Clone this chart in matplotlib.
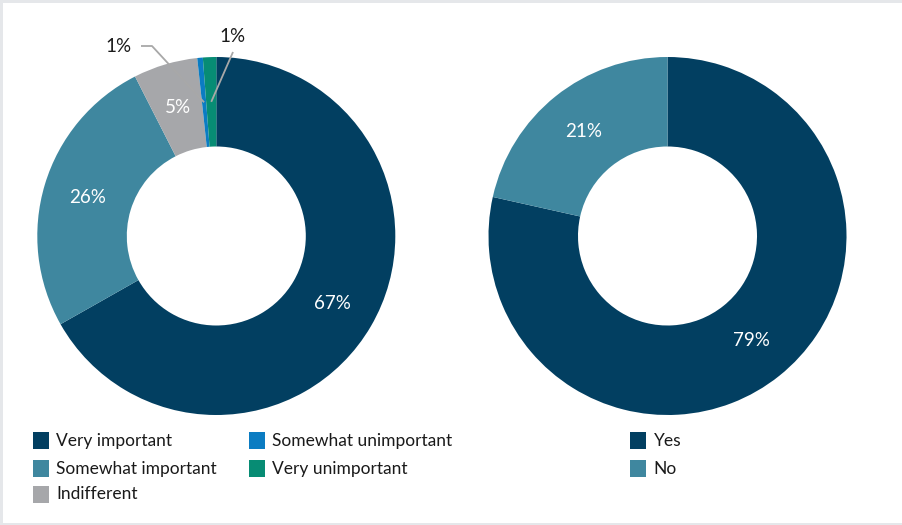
import numpy as np
import matplotlib
matplotlib.use("Agg")
import matplotlib.pyplot as plt
from matplotlib.patches import Rectangle

plt.rcParams['font.family'] = ['Lato', 'DejaVu Sans']

# ---- data ----
left_labels = ["Very important", "Somewhat important", "Indifferent",
               "Somewhat unimportant", "Very unimportant"]
left_values = [66.8, 25.7, 5.8, 0.5, 1.2]
left_pct_text = ["67%", "26%", "5%", "1%", "1%"]
left_colors = ["#023f61", "#3f879f", "#a6a7aa", "#0b7cc2", "#078c74"]

right_labels = ["Yes", "No"]
right_values = [78.5, 21.5]
right_pct_text = ["79%", "21%"]
right_colors = ["#023f61", "#3f879f"]

W, H = 903, 525
DPI = 100
fig = plt.figure(figsize=(W / DPI, H / DPI), dpi=DPI)
fig.patch.set_facecolor("#e5e7ea")

# background axes in pixel coordinates (y downward)
bg = fig.add_axes([0, 0, 1, 1])
bg.set_xlim(0, W)
bg.set_ylim(H, 0)
bg.axis("off")
bg.add_patch(Rectangle((3, 3), W - 3, H - 5, facecolor="white", edgecolor="none", zorder=0))

R = 179.0
RING = 0.5
FS = 13.5


def donut(cx, cy, values, colors, pct_text):
    ax = fig.add_axes([(cx - R) / W, (H - cy - R) / H, 2 * R / W, 2 * R / H])
    wedges, _ = ax.pie(values, colors=colors, startangle=90, counterclock=False,
                       radius=1.0, wedgeprops=dict(width=RING, edgecolor="none"))
    ax.set_xlim(-1, 1)
    ax.set_ylim(-1, 1)
    ax.set_aspect("auto")
    ax.axis("off")
    mids = []
    for w, txt, v in zip(wedges, pct_text, values):
        ang = np.deg2rad((w.theta1 + w.theta2) / 2)
        mids.append(ang)
        if v >= 3:
            r = 1 - RING / 2
            ax.text(r * np.cos(ang), r * np.sin(ang), txt, color="white",
                    fontsize=FS, ha="center", va="center")
    return ax, mids


axL, midsL = donut(216.3, 236, left_values, left_colors, left_pct_text)
axR, midsR = donut(667.5, 236, right_values, right_colors, right_pct_text)

# overlay axes (pixel coords) for leader lines, drawn above pies
ov = fig.add_axes([0, 0, 1, 1])
ov.set_xlim(0, W)
ov.set_ylim(H, 0)
ov.axis("off")
ov.patch.set_alpha(0)

rmid = R * (1 - RING / 2)
cxL, cyL = 216.3, 236
ends = [(cxL + rmid * np.cos(a), cyL - rmid * np.sin(a)) for a in midsL]
line_kw = dict(color="#a8a8a8", lw=1.3, zorder=5, solid_capstyle="butt")
# Somewhat unimportant
ex, ey = ends[3]
ov.plot([141, 152, ex], [46, 46, ey], **line_kw)
ov.text(132, 46, left_pct_text[3], fontsize=FS, color="#1a1a1a", ha="right", va="center")
# Very unimportant
ex, ey = ends[4]
ov.plot([233, ex], [52, ey], **line_kw)
ov.text(233, 36, left_pct_text[4], fontsize=FS, color="#1a1a1a", ha="center", va="center")

# legends (manual)
SQ = 16.5
rows_y = [440.6, 468.6, 494.4]


def legend_entry(x, y, color, label):
    ov.add_patch(Rectangle((x, y - SQ / 2), SQ, SQ, facecolor=color, edgecolor="none"))
    ov.text(x + 23.5, y, label, fontsize=12.5, color="#1a1a1a", ha="left", va="center")


for i in range(3):
    legend_entry(33, rows_y[i], left_colors[i], left_labels[i])
for i in range(3, 5):
    legend_entry(249, rows_y[i - 3], left_colors[i], left_labels[i])
for i in range(2):
    legend_entry(630, rows_y[i], right_colors[i], right_labels[i])

fig.savefig("out.png", dpi=DPI, facecolor=fig.get_facecolor())
